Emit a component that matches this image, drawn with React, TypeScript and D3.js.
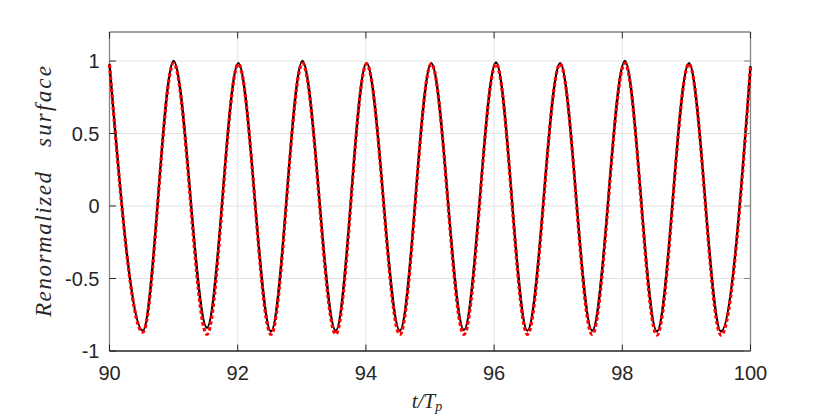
import React from "react";
import * as d3 from "d3";

// Extrema of the two surface-elevation records
const extremaTimes = [
  90.0, 90.52, 91.0, 91.52, 92.01, 92.52, 93.01, 93.53, 94.01, 94.53, 95.02,
  95.53, 96.03, 96.52, 97.03, 97.53, 98.04, 98.54, 99.04, 99.54, 100.0,
];
const blackValues = [
  0.98, -0.86, 1.0, -0.84, 0.985, -0.865, 1.0, -0.86, 0.985, -0.86, 0.985,
  -0.855, 0.99, -0.86, 0.985, -0.86, 1.0, -0.865, 0.985, -0.865, 0.965,
];
const redValues = [
  0.975, -0.87, 0.985, -0.885, 0.98, -0.885, 0.985, -0.885, 0.98, -0.885, 0.98,
  -0.885, 0.98, -0.885, 0.98, -0.885, 0.985, -0.89, 0.98, -0.89, 0.96,
];
const xTicks = [90, 92, 94, 96, 98, 100];
const yTicks = [-1, -0.5, 0, 0.5, 1];
const yTickLabels = ["-1", "-0.5", "0", "0.5", "1"];

const W = 830;
const H = 416;
const L = 109.5;
const R = 750.5;
const T = 32;
const B = 351;

export default function App() {
  const x = d3.scaleLinear().domain([90, 100]).range([L, R]);
  const y = d3.scaleLinear().domain([-1, 1.2]).range([B, T]);
  const line = d3
    .line<number>()
    .x((_, i) => x(extremaTimes[i]))
    .y((d) => y(d))
    .curve(d3.curveMonotoneX);

  const dark = "#262626";
  const gray = "#858585";
  const grid = "#e3e3e3";
  const tl = 6.4;

  return (
    <svg
      width={W}
      height={H}
      style={{ position: "absolute", left: 0, top: 0, display: "block", background: "#fff" }}
    >
      <defs>
        <clipPath id="plotclip">
          <rect x={L - 2} y={T} width={R - L + 4} height={B - T} />
        </clipPath>
      </defs>
      <rect x={0} y={0} width={W} height={H} fill="#fff" />
      {/* grid */}
      {xTicks.map((t) => (
        <line key={"gx" + t} x1={x(t)} x2={x(t)} y1={T} y2={B} stroke={grid} strokeWidth={1} />
      ))}
      {yTicks.map((t) => (
        <line key={"gy" + t} x1={L} x2={R} y1={y(t)} y2={y(t)} stroke={grid} strokeWidth={1} />
      ))}
      {/* box */}
      <line x1={L} x2={R} y1={T} y2={T} stroke={gray} strokeWidth={1.3} />
      <line x1={R} x2={R} y1={T} y2={B} stroke={gray} strokeWidth={1.3} />
      <line x1={L} x2={L} y1={T} y2={B} stroke={gray} strokeWidth={1.3} />
      <line x1={L} x2={R} y1={B} y2={B} stroke={dark} strokeWidth={1.3} />
      {/* data */}
      <g clipPath="url(#plotclip)">
        <path d={line(blackValues) || ""} fill="none" stroke="#000" strokeWidth={2.3} />
        <path
          d={line(redValues) || ""}
          fill="none"
          stroke="#ff0000"
          strokeWidth={3.2}
          strokeDasharray="3.5 2.5"
        />
      </g>
      {/* ticks */}
      {xTicks.map((t) => (
        <g key={"tx" + t}>
          <line x1={x(t)} x2={x(t)} y1={B} y2={B - tl} stroke={dark} strokeWidth={1} />
          <line x1={x(t)} x2={x(t)} y1={T} y2={T + tl} stroke={dark} strokeWidth={1} />
          <text
            x={x(t)}
            y={B + 29}
            textAnchor="middle"
            fontFamily="'Liberation Sans', Arial, sans-serif"
            fontSize={20}
            fill={dark}
          >
            {t}
          </text>
        </g>
      ))}
      {yTicks.map((t, i) => (
        <g key={"ty" + t}>
          <line x1={L} x2={L + tl} y1={y(t)} y2={y(t)} stroke={dark} strokeWidth={1} />
          <line x1={R} x2={R - tl} y1={y(t)} y2={y(t)} stroke={gray} strokeWidth={1} />
          <text
            x={L - 10}
            y={y(t)}
            dy="0.36em"
            textAnchor="end"
            fontFamily="'Liberation Sans', Arial, sans-serif"
            fontSize={20}
            fill={dark}
          >
            {yTickLabels[i]}
          </text>
        </g>
      ))}
      {/* axis labels */}
      <text
        x={(L + R) / 2 - 3}
        y={408}
        textAnchor="middle"
        fontFamily="'Liberation Serif', 'Times New Roman', serif"
        fontStyle="italic"
        fontSize={21}
        fill={dark}
      >
        t/T
        <tspan fontSize={14} dy={3}>
          p
        </tspan>
      </text>
      <text
        transform="translate(51,244.5) rotate(-90)"
        textAnchor="middle"
        fontFamily="'Liberation Serif', 'Times New Roman', serif"
        fontStyle="italic"
        fontSize={23}
        fill={dark}
        textLength={145}
        lengthAdjust="spacing"
      >
        Renormalized
      </text>
      <text
        transform="translate(51,106.5) rotate(-90)"
        textAnchor="middle"
        fontFamily="'Liberation Serif', 'Times New Roman', serif"
        fontStyle="italic"
        fontSize={23}
        fill={dark}
        textLength={81}
        lengthAdjust="spacing"
      >
        surface
      </text>
    </svg>
  );
}
